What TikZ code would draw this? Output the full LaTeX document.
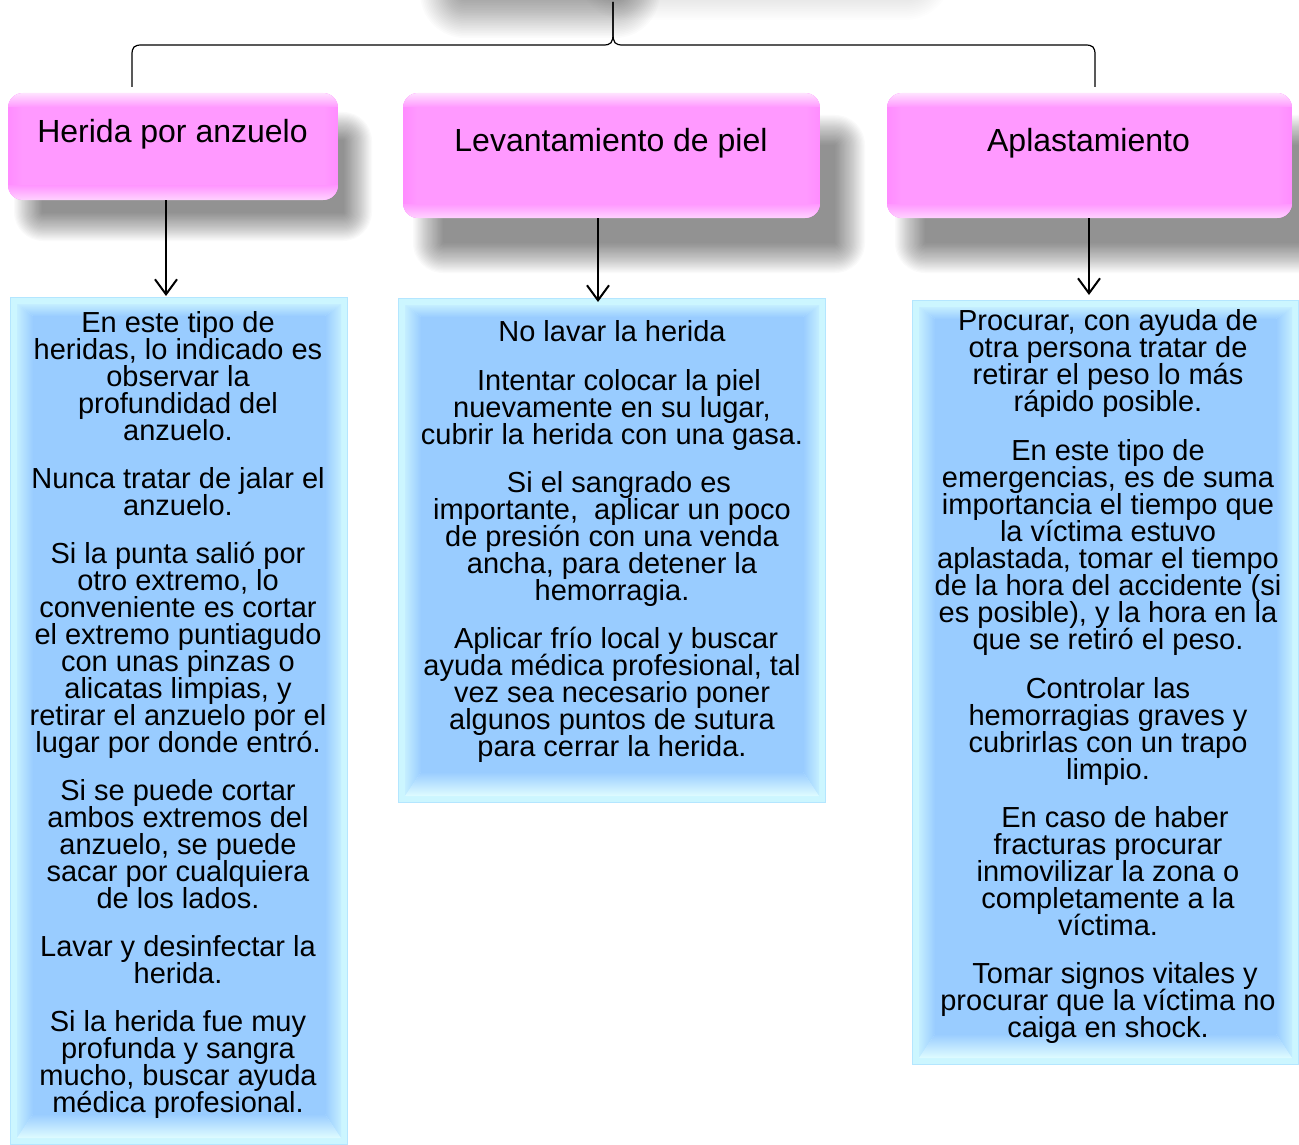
\documentclass[tikz,border=0pt]{standalone}
\usepackage{fontspec}
\setmainfont{Liberation Sans}
\usetikzlibrary{arrows.meta,fit}
\definecolor{pinkf}{HTML}{FF99FF}
\definecolor{pinkl}{HTML}{FFE2FF}
\definecolor{pinkb}{HTML}{FFD2FF}
\definecolor{pinkd}{HTML}{FF8CFF}
\definecolor{bluef}{HTML}{99CCFF}
\definecolor{bluebord}{HTML}{CCF6FF}
\definecolor{blueedge}{HTML}{B4E6FF}
\definecolor{bluelt}{HTML}{C4EEFF}
\definecolor{bluebot}{HTML}{DFFCFF}

\newcommand\BlueFont{\fontsize{29}{27}\selectfont\setlength{\lineskiplimit}{-40pt}}

\tikzset{
  brace/.style={line width=1.2pt, line join=round},
  arr/.style={line width=2.2pt, -{Straight Barb[length=15pt,width=22pt,line width=2pt]}},
  pinktext/.style={anchor=base, inner sep=0pt, font=\fontsize{32}{34}\selectfont},
  bluetext/.style={anchor=north, inner sep=0pt, align=center, font=\BlueFont},
  hold/.style={inner sep=0pt, outer sep=0pt}
}

\newcommand\SoftShadow[7]{% x1 y1 x2 y2 radius spread opacity
  \foreach \k in {-12,...,12}{
    \pgfmathsetmacro\dd{\k*#6/12}
    \pgfmathsetmacro\rr{max(#5+\dd,1)}
    \fill[black, opacity=#7, rounded corners=\rr pt] (#1-\dd,#2-\dd) rectangle (#3+\dd,#4+\dd);
  }}

\newcommand\PinkBox[5]{% name x1 y1 x2 y2
  \node[hold, fit={(#2,#3) (#4,#5)}] (#1) {};
  \begin{scope}
    \clip[rounded corners=15pt] (#2,#3) rectangle (#4,#5);
    \fill[pinkf] (#2,#3) rectangle (#4,#5);
    \shade[left color=pinkd, right color=pinkf] (#2,#3) rectangle (#2+14,#5);
    \shade[left color=pinkf, right color=pinkd] (#4-14,#3) rectangle (#4,#5);
    \shade[top color=pinkl, bottom color=pinkf] (#2,#3) rectangle (#4,#3+14);
    \shade[top color=pinkf, bottom color=pinkb] (#2,#5-14) rectangle (#4,#5);
  \end{scope}}

\newcommand\BlueBox[5]{% name x1 y1 x2 y2
  \node[hold, fit={(#2,#3) (#4,#5)}] (#1) {};
  \fill[bluebord, draw=blueedge, line width=1pt] (#2+0.5,#3+0.5) rectangle (#4-0.5,#5-0.5);
  \shade[top color=bluelt, bottom color=bluef] (#2+7,#3+7) -- (#4-7,#3+7) -- (#4-23,#3+19) -- (#2+23,#3+19) -- cycle;
  \shade[left color=bluelt, right color=bluef] (#2+7,#3+7) -- (#2+23,#3+19) -- (#2+23,#5-31) -- (#2+7,#5-7) -- cycle;
  \shade[left color=bluef, right color=bluelt] (#4-7,#3+7) -- (#4-23,#3+19) -- (#4-23,#5-31) -- (#4-7,#5-7) -- cycle;
  \shade[top color=bluef, bottom color=bluebot] (#2+7,#5-7) -- (#2+23,#5-31) -- (#4-23,#5-31) -- (#4-7,#5-7) -- cycle;
  \fill[bluef] (#2+23,#3+19) rectangle (#4-23,#5-31);}

\begin{document}
\begin{tikzpicture}[x=1pt, y=-1pt]
\clip (0,0) rectangle (1299,1145);
\fill[white] (0,0) rectangle (1299,1145);

% shadow of the (off-page) parent box
\SoftShadow{600}{-100}{930}{-2}{25}{22}{0.009}
\SoftShadow{440}{-100}{640}{18}{25}{20}{0.016}

% connector from the parent
\coordinate (btop) at (613,2);
\coordinate (bl) at (132,87);
\coordinate (br) at (1095,87);
\draw[brace] (btop) -- (613,33) .. controls (613,43) and (611,45) .. (603,45) -- (142,45)
   .. controls (134,45) and (132,47) .. (132,55) -- (bl);
\draw[brace] (btop) -- (613,33) .. controls (613,43) and (615,45) .. (623,45) -- (1085,45)
   .. controls (1093,45) and (1095,47) .. (1095,55) -- (br);

% shadows of the pink boxes
\SoftShadow{28}{126}{358}{227}{15}{14}{0.018}
\SoftShadow{428}{130}{850}{258}{15}{15}{0.018}
\SoftShadow{910}{130}{1325}{258}{15}{15}{0.018}

% pink boxes
\PinkBox{p1}{8}{93}{338}{200}
\PinkBox{p2}{403}{93}{820}{218}
\PinkBox{p3}{887}{93}{1292}{218}
\node[pinktext] (p1t) at (172.5,143) {Herida por anzuelo};
\node[pinktext] (p2t) at (611,152) {Levantamiento de piel};
\node[pinktext] (p3t) at (1088.5,152) {Aplastamiento};

% blue boxes
\BlueBox{b1}{10}{297}{348}{1145}
\BlueBox{b2}{398}{298}{826}{803}
\BlueBox{b3}{912}{300}{1299}{1065}

% arrows
\draw[arr] ([xshift=-7pt]p1.south) -- ([xshift=-13pt,yshift=1pt]b1.north);
\draw[arr] ([xshift=-13.5pt]p2.south) -- ([xshift=-14pt,yshift=-4pt]b2.north);
\draw[arr] ([xshift=-0.5pt]p3.south) -- ([xshift=-16.5pt,yshift=5pt]b3.north);

% texts
\node[bluetext] (t1) at (178,311) {En este tipo de\\ heridas, lo indicado es\\ observar la\\ profundidad del\\ anzuelo.\\[21pt]
Nunca tratar de jalar el\\ anzuelo.\\[21pt]
Si la punta salió por\\ otro extremo, lo\\ conveniente es cortar\\ el extremo puntiagudo\\ con unas pinzas o\\ alicatas limpias, y\\ retirar el anzuelo por el\\ lugar por donde entró.\\[21pt]
Si se puede cortar\\ ambos extremos del\\ anzuelo, se puede\\ sacar por cualquiera\\ de los lados.\\[21pt]
Lavar y desinfectar la\\ herida.\\[21pt]
Si la herida fue muy\\ profunda y sangra\\ mucho, buscar ayuda\\ médica profesional.};

\node[bluetext] (t2) at (612,320) {No lavar la herida\\[22pt]
\hspace*{14pt}Intentar colocar la piel\\ nuevamente en su lugar,\\ cubrir la herida con una gasa.\\[21pt]
\hspace*{14pt}Si el sangrado es\\ importante,\ \ aplicar un poco\\ de presión con una venda\\ ancha, para detener la\\ hemorragia.\\[21pt]
\hspace*{8pt}Aplicar frío local y buscar\\ ayuda médica profesional, tal\\ vez sea necesario poner\\ algunos puntos de sutura\\ para cerrar la herida.};

\node[bluetext] (t3) at (1108,309) {Procurar, con ayuda de\\ otra persona tratar de\\ retirar el peso lo más\\ rápido posible.\\[22pt]
En este tipo de\\ emergencias, es de suma\\ importancia el tiempo que\\ la víctima estuvo\\ aplastada, tomar el tiempo\\ de la hora del accidente (si\\ es posible), y la hora en la\\ que se retiró el peso.\\[22pt]
Controlar las\\ hemorragias graves y\\ cubrirlas con un trapo\\ limpio.\\[21pt]
\hspace*{14pt}En caso de haber\\ fracturas procurar\\ inmovilizar la zona o\\ completamente a la\\ víctima.\\[21pt]
\hspace*{14pt}Tomar signos vitales y\\ procurar que la víctima no\\ caiga en shock.};
\end{tikzpicture}
\end{document}
